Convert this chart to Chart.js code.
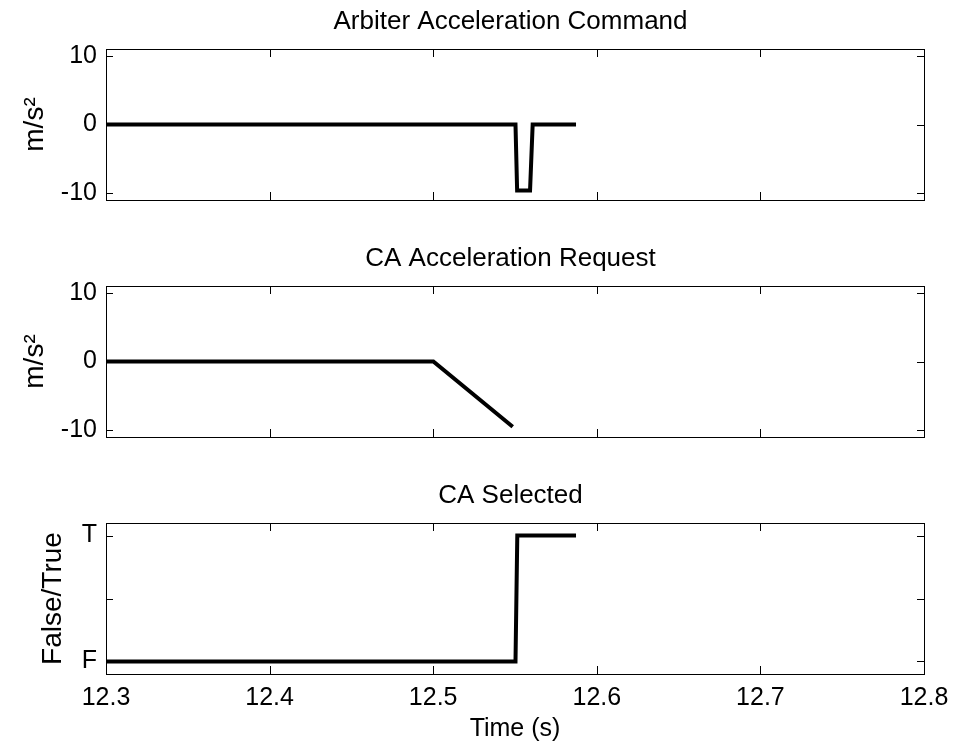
<!DOCTYPE html>
<html>
<head>
<meta charset="utf-8">
<script src="https://cdn.jsdelivr.net/npm/chart.js@4.4.1/dist/chart.umd.min.js"></script>
<style>
  html, body { margin: 0; padding: 0; background: #fff; }
  body { width: 953px; height: 744px; position: relative; overflow: hidden; }
  .plot { position: absolute; left: 0; width: 953px; }
  #cmdPlot { top: 0; height: 230px; }
  #reqPlot { top: 237px; height: 230px; }
  #selPlot { top: 474px; height: 270px; }
</style>
</head>
<body>
<div class="plot" id="cmdPlot"><canvas id="cmdChart"></canvas></div>
<div class="plot" id="reqPlot"><canvas id="reqChart"></canvas></div>
<div class="plot" id="selPlot"><canvas id="selChart"></canvas></div>
<script>
// time axis
const xTicks = [12.3, 12.4, 12.5, 12.6, 12.7, 12.8];
const accelTicks = [-10, 0, 10];
const boolTicks = [0, 0.5, 1];
const boolLabels = ['F', '', 'T'];

// Arbiter Acceleration Command
const cmdTime = [12.3, 12.5503, 12.5513, 12.5592, 12.5608, 12.5873];
const cmdAccel = [0, 0, -9.6, -9.6, 0, 0];

// CA Acceleration Request
const reqTime = [12.3, 12.5001, 12.5486];
const reqAccel = [0, 0, -9.5];

// CA Selected
const selTime = [12.3, 12.5503, 12.5514, 12.5873];
const selState = [0, 0, 1, 1];

Chart.defaults.font.family = "'Liberation Sans', Arial, sans-serif";
Chart.defaults.font.size = 25;
Chart.defaults.color = '#000';

// MATLAB style box with inward ticks on all four sides,
// title centred over the axes rather than the whole canvas
const matlabBox = {
    id: 'matlabBox',
    afterLayout(chart) {
        const t = chart.titleBlock;
        if (t) {
            t.left = chart.chartArea.left;
            t.right = chart.chartArea.right - 9;
        }
    },
    afterDatasetsDraw(chart) {
        const { ctx, chartArea: a, scales: { x, y } } = chart;
        ctx.save();
        ctx.strokeStyle = '#000';
        ctx.lineWidth = 1;
        ctx.beginPath();
        x.ticks.forEach(t => {
            const px = Math.round(x.getPixelForValue(t.value)) + 0.5;
            ctx.moveTo(px, a.bottom); ctx.lineTo(px, a.bottom - 8);
            ctx.moveTo(px, a.top); ctx.lineTo(px, a.top + 8);
        });
        y.ticks.forEach(t => {
            const py = Math.round(y.getPixelForValue(t.value)) + 0.5;
            ctx.moveTo(a.left, py); ctx.lineTo(a.left + 7, py);
            ctx.moveTo(a.right, py); ctx.lineTo(a.right - 7, py);
        });
        ctx.stroke();
        ctx.strokeRect(Math.round(a.left) + 0.5, Math.round(a.top) + 0.5,
            Math.round(a.right - a.left), Math.round(a.bottom - a.top));
        ctx.restore();
    }
};

function makePlot(canvasId, title, times, values, opts) {
    const points = times.map((t, i) => ({ x: t, y: values[i] }));
    return new Chart(document.getElementById(canvasId), {
        type: 'line',
        data: {
            datasets: [{
                data: points,
                borderColor: '#000',
                borderWidth: 4,
                pointRadius: 0,
                tension: 0,
                fill: false
            }]
        },
        options: {
            responsive: true,
            maintainAspectRatio: false,
            animation: false,
            events: [],
            layout: { padding: { left: 0, right: 29, top: 0, bottom: opts.showX ? 0 : 30 } },
            scales: {
                x: {
                    type: 'linear',
                    min: 12.3,
                    max: 12.8,
                    afterBuildTicks: s => { s.ticks = xTicks.map(v => ({ value: v })); },
                    afterFit: s => {
                        s.height = opts.showX ? 70 : 0;
                        s.paddingLeft = 0;
                        s.paddingRight = 0;
                    },
                    grid: { display: false, drawTicks: false },
                    border: { display: false },
                    ticks: {
                        display: opts.showX,
                        padding: 9,
                        maxRotation: 0,
                        callback: v => v.toFixed(1)
                    },
                    title: {
                        display: opts.showX,
                        text: 'Time (s)',
                        padding: { top: 0, bottom: 0 }
                    }
                },
                y: {
                    type: 'linear',
                    min: opts.yMin,
                    max: opts.yMax,
                    afterBuildTicks: s => { s.ticks = opts.yTicks.map(v => ({ value: v })); },
                    afterFit: s => {
                        s.width = 106;
                        s.paddingTop = 0;
                        s.paddingBottom = 0;
                    },
                    grid: { display: false, drawTicks: false },
                    border: { display: false },
                    ticks: {
                        padding: 9,
                        callback: opts.yLabel
                    },
                    title: {
                        display: true,
                        text: opts.yTitle,
                        font: { size: 28 },
                        padding: { top: opts.yTitlePad, bottom: 0 }
                    }
                }
            },
            plugins: {
                legend: { display: false },
                tooltip: { enabled: false },
                title: {
                    display: true,
                    text: title,
                    color: '#000',
                    font: { size: 26, weight: 'normal' },
                    padding: { top: 6.4, bottom: 11.4 }
                }
            }
        },
        plugins: [matlabBox]
    });
}

makePlot('cmdChart', 'Arbiter Acceleration Command', cmdTime, cmdAccel, {
    showX: false, yMin: -11, yMax: 11, yTicks: accelTicks,
    yLabel: v => String(v), yTitle: 'm/s\u00B2', yTitlePad: 18.2
});

makePlot('reqChart', 'CA Acceleration Request', reqTime, reqAccel, {
    showX: false, yMin: -11, yMax: 11, yTicks: accelTicks,
    yLabel: v => String(v), yTitle: 'm/s\u00B2', yTitlePad: 18.2
});

makePlot('selChart', 'CA Selected', selTime, selState, {
    showX: true, yMin: -0.1, yMax: 1.1, yTicks: boolTicks,
    yLabel: v => boolLabels[boolTicks.indexOf(v)], yTitle: 'False/True', yTitlePad: 36.2
});
</script>
</body>
</html>
